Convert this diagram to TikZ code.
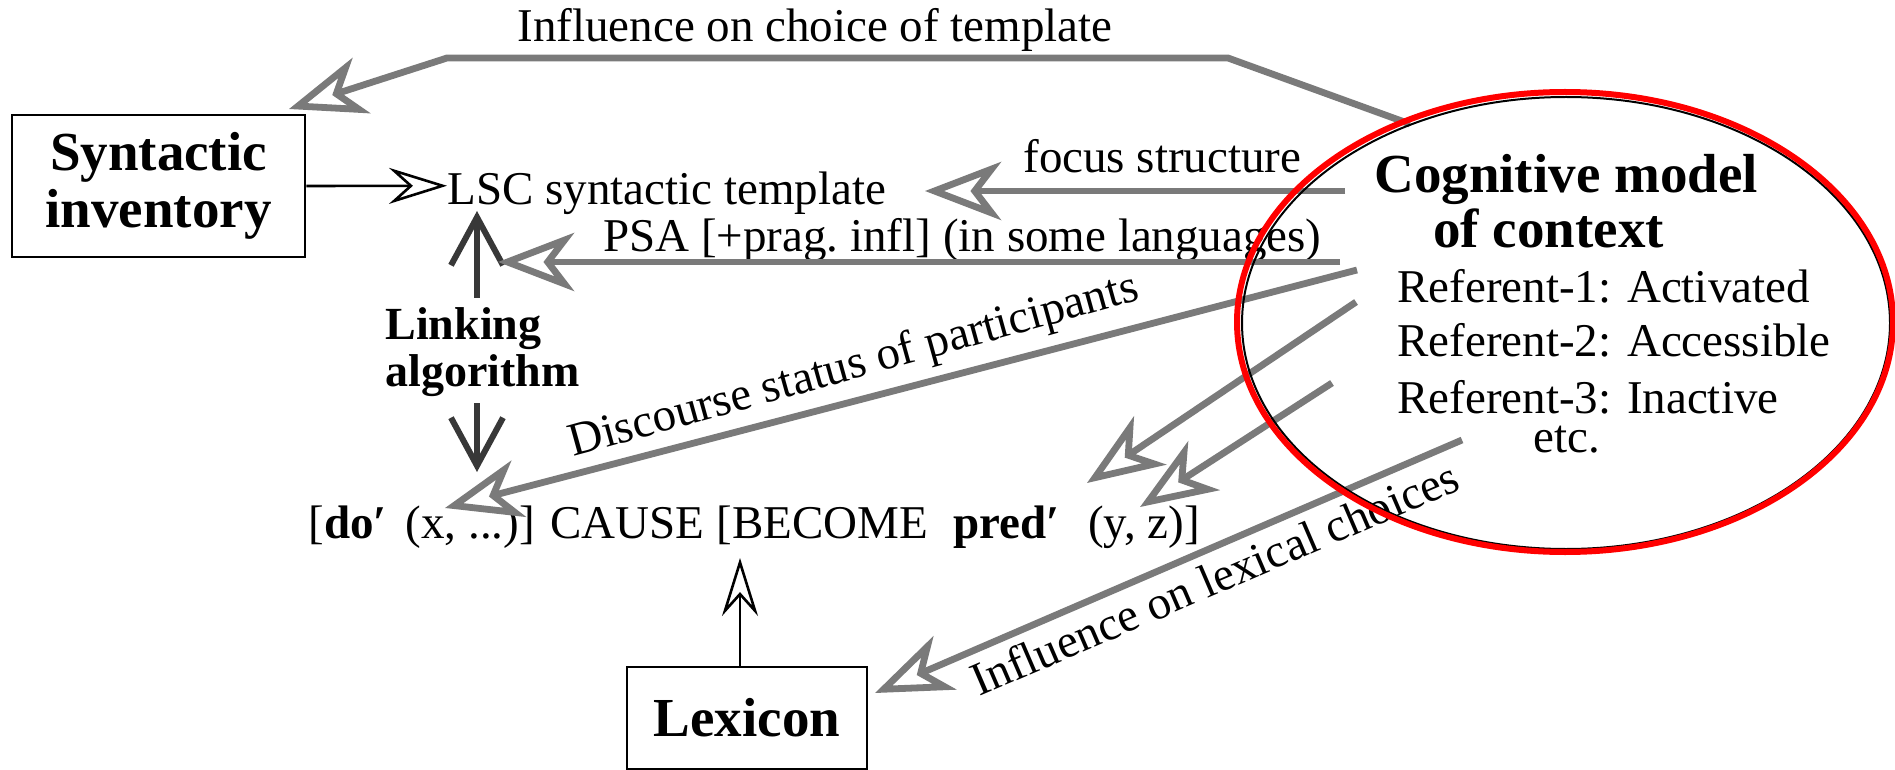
\documentclass[tikz,border=0pt]{standalone}
\usepackage{fontspec}
\setmainfont{Liberation Serif}
\usetikzlibrary{arrows.meta}
\begin{document}
\begin{tikzpicture}[x=0.5pt,y=-0.5pt,
  hatch/.style={draw=black!52, line width=3.4pt, -{Stealth[open,length=38pt,width=29pt,inset=11pt]}},
  thinarr/.style={draw=black, line width=1.3pt, -{Stealth[open,length=29pt,width=18pt,inset=10pt]}},
  heavyarr/.style={draw=black!78, line width=3pt, -{Straight Barb[length=24pt,width=26pt]}},
  normal/.style={font=\fontsize{23.5pt}{28.5pt}\selectfont, inner sep=0pt},
  boldbig/.style={font=\fontsize{27.5pt}{28.5pt}\selectfont\bfseries, inner sep=0pt},
  boldsmall/.style={font=\fontsize{23pt}{23.5pt}\selectfont\bfseries, inner sep=0pt},
  boxnode/.style={draw=black, line width=1.4pt, inner sep=0pt}
]
\fill[white] (0,0) rectangle (1895,770);
\useasboundingbox (0,0) rectangle (1895,770);

% boxes
\node[boxnode, boldbig, align=center, minimum width=146.5pt, minimum height=71pt] (synt) at (158.5,186) {Syntactic\\inventory};
\node[boxnode, boldbig, minimum width=120pt, minimum height=51pt] (lex) at (747,718) {Lexicon};

% texts
\node[normal, anchor=base west] (infl) at (517,42) {Influence on choice of template};
\node[normal, anchor=base west] (lsc) at (447,205) {LSC syntactic template};
\node[normal, anchor=base west] (focus) at (1023,173) {focus structure};
\node[normal, anchor=base east] (psa) at (1322,252) {PSA [+prag.\ infl] (in some languages)};
\node[boldsmall, anchor=north west, align=left] (link) at (385,307) {Linking\\algorithm};
\node[normal, anchor=base west] (form) at (308,538) {[\textbf{do′}\hspace{0.4em}(x, ...)] CAUSE [BECOME\hspace{0.55em}\textbf{pred′}\hspace{0.6em}(y, z)]};
\node[normal, anchor=base west, rotate=15.5] (disc) at (573,457) {Discourse status of participants};
\node[normal, anchor=base west, rotate=23.3] (lexch) at (979,697) {Influence on lexical choices};

% ellipse texts
\node[boldbig, anchor=base west] (cog) at (1374,193) {Cognitive model};
\node[boldbig, anchor=base west] (ctx) at (1433,248) {of context};
\node[normal, anchor=base west] (r1) at (1397,302) {Referent-1: Activated};
\node[normal, anchor=base west] (r2) at (1397,357) {Referent-2: Accessible};
\node[normal, anchor=base west] (r3) at (1397,413) {Referent-3: Inactive};
\node[normal, anchor=base west] (etc) at (1533,452) {etc.};

% coordinates
\coordinate (t0) at (1410,124);
\coordinate (t1) at (1228,58);
\coordinate (t2) at (447,58);
\coordinate (t3) at (289,109);
\coordinate (fs) at (1345,191);
\coordinate (fe) at (925,191);
\coordinate (ps) at (1340,262);
\coordinate (pe) at (498,262);
\coordinate (ds) at (1357,270);
\coordinate (de) at (445,508);
\coordinate (as) at (1356,302);
\coordinate (ae) at (1087,483);
\coordinate (bs) at (1332,383);
\coordinate (be) at (1140,507);
\coordinate (ls) at (1462,440);
\coordinate (le) at (875,693);
\coordinate (up1) at (477,298);
\coordinate (up2) at (477,211);
\coordinate (dn1) at (477,403);
\coordinate (dn2) at (477,472);
\coordinate (lx) at (740,558);

% black arrows
\draw[thinarr] ([yshift=0pt]synt.east) -- ([yshift=4pt]lsc.west);
\draw[thinarr] (lex.north -| lx) -- (lx);
\draw[heavyarr] (up1) -- (up2);
\draw[heavyarr] (dn1) -- (dn2);

% hatched arrows
\draw[hatch] (t0) -- (t1) -- (t2) -- (t3);
\draw[hatch] (fs) -- (fe);
\draw[hatch] (ps) -- (pe);
\draw[hatch] (ds) -- (de);
\draw[hatch] (as) -- (ae);
\draw[hatch] (bs) -- (be);
\draw[hatch] (ls) -- (le);

% ellipse
\draw[black, line width=1pt] (1566,323) ellipse [x radius=324, y radius=226];
\draw[red, line width=3pt] (1565,322) ellipse [x radius=328, y radius=230];
\end{tikzpicture}
\end{document}
